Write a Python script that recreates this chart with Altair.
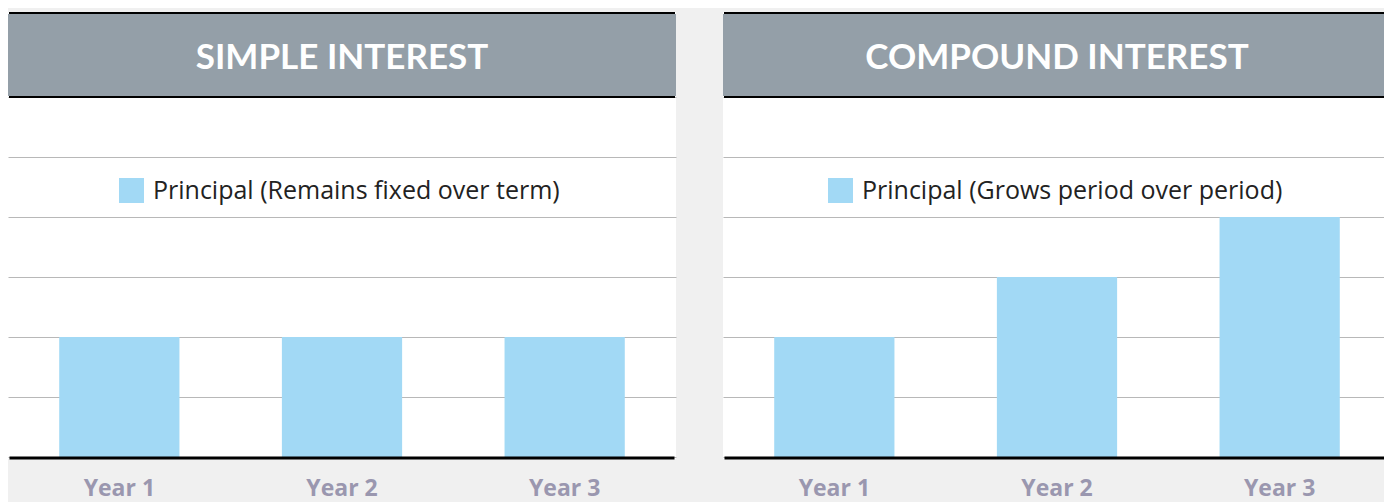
import altair as alt
import pandas as pd

years = ["Year 1", "Year 2", "Year 3"]
simple_values = [2, 2, 2]
compound_values = [2, 3, 4]
panel_titles = ["SIMPLE INTEREST", "COMPOUND INTEREST"]
legend_labels = ["Principal (Remains fixed over term)", "Principal (Grows period over period)"]
y_ticks = [0, 1, 2, 3, 4, 5, 6]

BAR = "#a2d9f5"
HEADER = "#949fa8"
GRID = "#b8b8b8"
LABEL = "#9a97af"
W = 668
H = 447
TITLE_FONT = "Lato"
TEXT_FONT = "Open Sans"


def panel(values, title, legend_label, legend_x):
    df = pd.DataFrame({"year": years, "value": values, "series": [legend_label] * len(years)})
    base = alt.Chart(df)
    bars = base.mark_bar().encode(
        x=alt.X(
            "year:N",
            sort=years,
            scale=alt.Scale(paddingInner=0.46, paddingOuter=0.23),
            axis=alt.Axis(
                title=None, domain=False, ticks=False, labelAngle=0,
                labelFont=TEXT_FONT, labelFontWeight="bold", labelFontSize=23,
                labelColor=LABEL, labelBaseline="alphabetic", labelPadding=36,
            ),
        ),
        y=alt.Y(
            "value:Q",
            scale=alt.Scale(domain=[0, 6], range=[445, 85]),
            axis=alt.Axis(
                title=None, values=y_ticks, grid=True, gridColor=GRID, gridWidth=1,
                domain=False, ticks=False, labels=False,
            ),
        ),
        color=alt.Color(
            "series:N",
            scale=alt.Scale(range=[BAR]),
            legend=alt.Legend(
                orient="none", legendX=legend_x, legendY=166, title=None,
                symbolType="square", symbolSize=625, symbolStrokeWidth=0,
                symbolOpacity=1, labelFont=TEXT_FONT, labelFontSize=25,
                labelColor="#222222", padding=0, labelOffset=9, labelLimit=600,
            ),
        ),
    )
    tdf = pd.DataFrame({"title": [title]})
    tbase = alt.Chart(tdf)
    header = tbase.mark_rect(color=HEADER).encode(
        x=alt.value(0), x2=alt.value(W), y=alt.value(2), y2=alt.value(84)
    )
    top_rule = tbase.mark_rule(color="#000000", strokeWidth=2).encode(
        x=alt.value(1), x2=alt.value(W - 1), y=alt.value(1)
    )
    head_rule = tbase.mark_rule(color="#000000", strokeWidth=2).encode(
        x=alt.value(1), x2=alt.value(W - 1), y=alt.value(85)
    )
    base_rule = tbase.mark_rule(color="#000000", strokeWidth=3).encode(
        x=alt.value(1.5), x2=alt.value(W - 1.5), y=alt.value(446)
    )
    text = tbase.mark_text(
        font=TITLE_FONT, fontWeight="bold", fontSize=35, color="white",
        align="center", baseline="alphabetic",
    ).encode(text="title:N", x=alt.value(W / 2), y=alt.value(57))
    return alt.layer(bars, header, top_rule, head_rule, base_rule, text).properties(
        width=W, height=H
    )


left = panel(simple_values, panel_titles[0], legend_labels[0], 111)
right = panel(compound_values, panel_titles[1], legend_labels[1], 105)

chart = (
    alt.hconcat(left, right, spacing=47)
    .resolve_scale(color="independent", x="independent", y="independent")
    .properties(background="#f0f0f0", padding={"left": 0, "top": 4, "right": -7, "bottom": 8})
    .configure_view(stroke=None, fill="white")
)

chart.save("out.html", embed_options={"renderer": "svg", "actions": False})
